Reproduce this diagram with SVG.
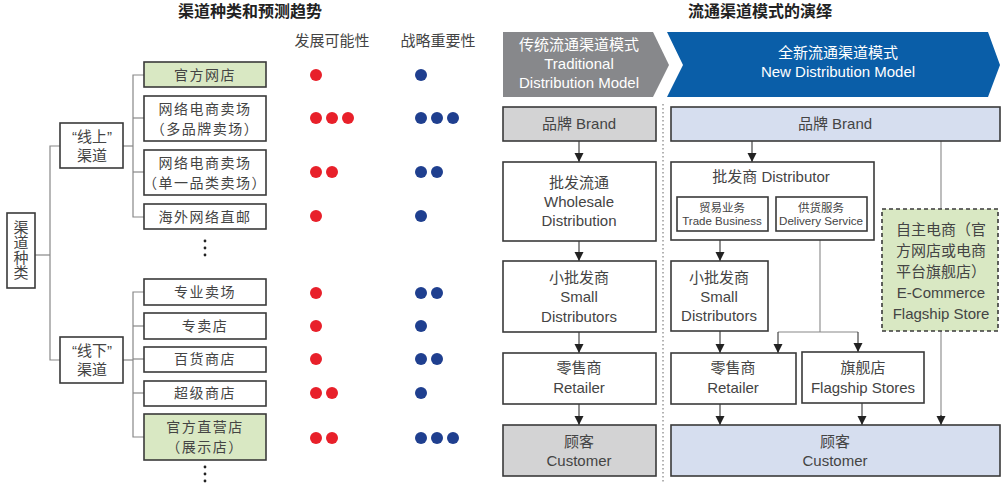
<svg xmlns="http://www.w3.org/2000/svg" width="1008" height="488" viewBox="0 0 1008 488">
<defs>
<marker id="ah" viewBox="0 0 10 10" refX="10" refY="5" markerWidth="9" markerHeight="10" markerUnits="userSpaceOnUse" orient="auto"><path d="M0,0 L10,5 L0,10 z" fill="#222"/></marker>
<style>
text{font-family:"Liberation Sans","Noto Sans CJK SC",sans-serif;fill:#444;text-anchor:middle;}
.t{font-size:16px;font-weight:bold;fill:#222;}
.h{font-size:15px;fill:#444;}
.lb{font-size:14px;letter-spacing:1.5px;}
.box{fill:#fff;stroke:#3a3a3a;stroke-width:1.6;}
.g{fill:#d9e8c3;}
.gy{fill:#d3d3d4;}
.bl{fill:#d6deef;}
.tree{fill:none;stroke:#888;stroke-width:1.2;}
.ar{fill:none;stroke:#333;stroke-width:1.1;marker-end:url(#ah);}
.ln{fill:none;stroke:#888;stroke-width:1.1;}
.r{fill:#e8202a;}
.b{fill:#1f3f8f;}
.rb{font-size:15px;}
.sm{font-size:11.5px;}
.w{fill:#fff;font-size:15px;}
</style>
</defs>

<text class="t" x="250" y="17">渠道种类和预测趋势</text>
<text class="t" x="760" y="17">流通渠道模式的演绎</text>
<text class="h" x="332" y="46">发展可能性</text>
<text class="h" x="438" y="46">战略重要性</text>

<g id="connectors">
<polyline class="tree" points="35,255 50,255"/>
<polyline class="tree" points="60,146 50,146 50,360 60,360"/>
<polyline class="tree" points="123,146 133,146"/>
<polyline class="tree" points="144,75 133,75 133,217 144,217"/>
<polyline class="tree" points="133,118 144,118"/>
<polyline class="tree" points="133,172 144,172"/>
<polyline class="tree" points="123,360 133,360"/>
<polyline class="tree" points="144,292 133,292 133,437 144,437"/>
<polyline class="tree" points="133,326 144,326"/>
<polyline class="tree" points="133,359 144,359"/>
<polyline class="tree" points="133,393 144,393"/>
<line x1="663" y1="104" x2="663" y2="482" stroke="#666" stroke-width="1" stroke-dasharray="1.5,2.5"/>
<line class="ar" x1="579" y1="141" x2="579" y2="162"/>
<line class="ar" x1="579" y1="241" x2="579" y2="261"/>
<line class="ar" x1="579" y1="332" x2="579" y2="353"/>
<line class="ar" x1="579" y1="404" x2="579" y2="425"/>
<line class="ar" x1="752" y1="141" x2="752" y2="162"/>
<line class="ar" x1="720" y1="231" x2="720" y2="261"/>
<line class="ar" x1="720" y1="331" x2="720" y2="353"/>
<line class="ar" x1="720" y1="404" x2="720" y2="425"/>
<line class="ln" x1="820" y1="231" x2="820" y2="332"/>
<polyline class="ln" points="778,332 858,332"/>
<line class="ar" x1="778" y1="332" x2="778" y2="353"/>
<line class="ar" x1="858" y1="332" x2="858" y2="352"/>
<line class="ar" x1="862" y1="403" x2="862" y2="425"/>
<line class="ln" x1="941" y1="141" x2="941" y2="209"/>
<line class="ln" x1="941" y1="331" x2="941" y2="420"/>
<line class="ar" x1="941" y1="415" x2="941" y2="425"/>
</g>

<g id="root"><rect class="box" x="7" y="213" width="28" height="75"/>
<text class="rb" x="21" y="233">渠</text><text class="rb" x="21" y="248">道</text><text class="rb" x="21" y="263">种</text><text class="rb" x="21" y="278">类</text></g>

<g id="online"><rect class="box" x="60" y="123" width="63" height="45"/>
<text class="rb" x="92" y="142">“线上”</text><text class="rb" x="92" y="161">渠道</text></g>
<g id="offline"><rect class="box" x="60" y="337" width="63" height="46"/>
<text class="rb" x="92" y="356">“线下”</text><text class="rb" x="92" y="375">渠道</text></g>

<g id="n1"><rect class="box g" x="144" y="62" width="122" height="25"/><text class="lb" x="205" y="80">官方网店</text></g>
<g id="n2"><rect class="box" x="144" y="96" width="122" height="45"/><text class="lb" x="205" y="114">网络电商卖场</text><text class="lb" x="205" y="134">（多品牌卖场）</text></g>
<g id="n3"><rect class="box" x="144" y="150" width="122" height="45"/><text class="lb" x="205" y="168">网络电商卖场</text><text class="lb" x="205" y="188">（单一品类卖场）</text></g>
<g id="n4"><rect class="box" x="144" y="204" width="122" height="25"/><text class="lb" x="205" y="222">海外网络直邮</text></g>
<g id="n5"><rect class="box" x="144" y="279" width="122" height="26"/><text class="lb" x="205" y="297">专业卖场</text></g>
<g id="n6"><rect class="box" x="144" y="313" width="122" height="26"/><text class="lb" x="205" y="331">专卖店</text></g>
<g id="n7"><rect class="box" x="144" y="347" width="122" height="25"/><text class="lb" x="205" y="364">百货商店</text></g>
<g id="n8"><rect class="box" x="144" y="381" width="122" height="25"/><text class="lb" x="205" y="398">超级商店</text></g>
<g id="n9"><rect class="box g" x="144" y="414" width="122" height="46"/><text class="lb" x="205" y="432">官方直营店</text><text class="lb" x="205" y="452">（展示店）</text></g>

<g id="ellipsis" fill="#222">
<circle cx="205" cy="241" r="1.4"/><circle cx="205" cy="248" r="1.4"/><circle cx="205" cy="255" r="1.4"/>
<circle cx="205" cy="467" r="1.4"/><circle cx="205" cy="474" r="1.4"/><circle cx="205" cy="481" r="1.4"/>
</g>

<g id="dots">
<circle class="r" cx="316" cy="75" r="6"/><circle class="b" cx="421" cy="75" r="6"/>
<circle class="r" cx="316" cy="118" r="6"/><circle class="r" cx="332" cy="118" r="6"/><circle class="r" cx="348" cy="118" r="6"/>
<circle class="b" cx="421" cy="118" r="6"/><circle class="b" cx="437" cy="118" r="6"/><circle class="b" cx="453" cy="118" r="6"/>
<circle class="r" cx="316" cy="172" r="6"/><circle class="r" cx="332" cy="172" r="6"/>
<circle class="b" cx="421" cy="172" r="6"/><circle class="b" cx="437" cy="172" r="6"/>
<circle class="r" cx="316" cy="216" r="6"/><circle class="b" cx="421" cy="216" r="6"/>
<circle class="r" cx="316" cy="293" r="6"/><circle class="b" cx="421" cy="293" r="6"/><circle class="b" cx="437" cy="293" r="6"/>
<circle class="r" cx="316" cy="326" r="6"/><circle class="b" cx="421" cy="326" r="6"/>
<circle class="r" cx="316" cy="359" r="6"/><circle class="b" cx="421" cy="359" r="6"/><circle class="b" cx="437" cy="359" r="6"/>
<circle class="r" cx="316" cy="393" r="6"/><circle class="r" cx="332" cy="393" r="6"/><circle class="b" cx="421" cy="393" r="6"/>
<circle class="r" cx="316" cy="438" r="6"/><circle class="r" cx="332" cy="438" r="6"/>
<circle class="b" cx="421" cy="438" r="6"/><circle class="b" cx="437" cy="438" r="6"/><circle class="b" cx="453" cy="438" r="6"/>
</g>

<g id="trad-header"><polygon points="503,32 653,32 669,65 653,97 503,97" fill="#87888b"/>
<text class="w" x="579" y="50">传统流通渠道模式</text><text class="w" x="579" y="69">Traditional</text><text class="w" x="579" y="88">Distribution Model</text></g>
<g id="new-header"><polygon points="667,32 988,32 1000,65 988,97 667,97 683,65" fill="#0a5ea8"/>
<text class="w" x="838" y="58">全新流通渠道模式</text><text class="w" x="838" y="77">New Distribution Model</text></g>

<g id="t-brand"><rect class="box gy" x="503" y="107" width="153" height="34"/><text class="rb" x="579" y="129">品牌 Brand</text></g>
<g id="t-wholesale"><rect class="box" x="503" y="162" width="153" height="79"/><text class="rb" x="579" y="188">批发流通</text><text class="rb" x="579" y="207">Wholesale</text><text class="rb" x="579" y="226">Distribution</text></g>
<g id="t-small"><rect class="box" x="503" y="261" width="153" height="71"/><text class="rb" x="579" y="283">小批发商</text><text class="rb" x="579" y="302">Small</text><text class="rb" x="579" y="322">Distributors</text></g>
<g id="t-retailer"><rect class="box" x="503" y="353" width="153" height="51"/><text class="rb" x="579" y="373">零售商</text><text class="rb" x="579" y="393">Retailer</text></g>
<g id="t-customer"><rect class="box gy" x="503" y="425" width="153" height="51"/><text class="rb" x="579" y="447">顾客</text><text class="rb" x="579" y="466">Customer</text></g>

<g id="n-brand"><rect class="box bl" x="671" y="107" width="329" height="34"/><text class="rb" x="835" y="129">品牌 Brand</text></g>
<g id="n-distributor"><rect class="box" x="671" y="162" width="203" height="78"/><text class="rb" x="771" y="182">批发商 Distributor</text>
<rect class="box" x="677" y="197" width="91" height="34"/><text class="sm" x="722" y="212">贸易业务</text><text class="sm" x="722" y="225">Trade Business</text>
<rect class="box" x="776" y="197" width="91" height="34"/><text class="sm" x="821" y="212">供货服务</text><text class="sm" x="821" y="225" textLength="84" lengthAdjust="spacingAndGlyphs">Delivery Service</text></g>
<g id="n-ecom"><rect x="882" y="209" width="116" height="122" fill="#d9e8c3" stroke="#3a3a3a" stroke-width="1.6" stroke-dasharray="4,3"/>
<text class="rb" x="941" y="235">自主电商（官</text><text class="rb" x="941" y="256">方网店或电商</text><text class="rb" x="941" y="277">平台旗舰店）</text><text class="rb" x="941" y="298">E-Commerce</text><text class="rb" x="941" y="319">Flagship Store</text></g>
<g id="n-small"><rect class="box" x="671" y="261" width="97" height="70"/><text class="rb" x="719" y="283">小批发商</text><text class="rb" x="719" y="302">Small</text><text class="rb" x="719" y="321">Distributors</text></g>
<g id="n-retailer"><rect class="box" x="671" y="353" width="125" height="51"/><text class="rb" x="733" y="373">零售商</text><text class="rb" x="733" y="393">Retailer</text></g>
<g id="n-flagship"><rect class="box" x="802" y="352" width="122" height="51"/><text class="rb" x="863" y="373">旗舰店</text><text class="rb" x="863" y="393">Flagship Stores</text></g>
<g id="n-customer"><rect class="box bl" x="671" y="425" width="329" height="51"/><text class="rb" x="835" y="447">顾客</text><text class="rb" x="835" y="466">Customer</text></g>
</svg>
